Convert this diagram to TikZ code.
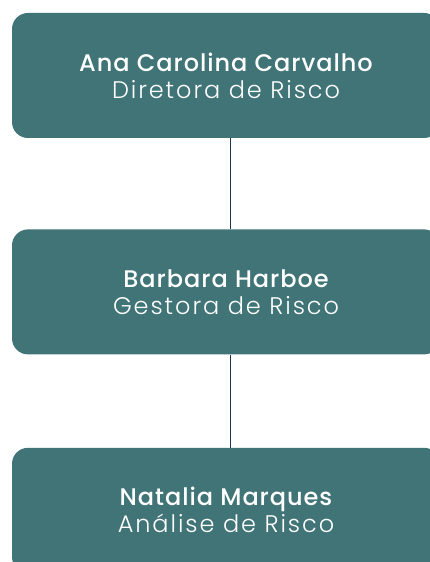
\documentclass[tikz,border=0pt]{standalone}
\usepackage{fontspec}
\usepackage{xcolor}
\usepackage{tikz}
\usetikzlibrary{positioning}
\newfontfamily\namefont{Poppins Medium}[LetterSpace=4]
\newfontfamily\rolefont{Poppins Light}[LetterSpace=8]
\definecolor{teal}{HTML}{407476}
\definecolor{navy}{HTML}{1E3550}
\tikzset{
  card/.style={fill=teal, rounded corners=16pt, minimum width=428pt, minimum height=125pt,
    inner sep=0pt, align=center, text=white, font=\fontsize{24}{27}\selectfont},
  link/.style={draw=navy, line width=1pt},
  every node/.style={text=white}
}
\newcommand{\who}[2]{{\namefont #1}\\{\rolefont #2}}

\begin{document}
\begin{tikzpicture}[x=1pt,y=1pt]
  \useasboundingbox (0,0) rectangle (430,562);
  \clip (0,0) rectangle (430,562);
  \node[card] (ana) at (226,486.5) {\who{Ana Carolina Carvalho}{Diretora de Risco}};
  \node[card,below=91pt of ana] (barbara) {\who{Barbara Harboe}{Gestora de Risco}};
  \node[card,below=93pt of barbara] (natalia) {\who{Natalia Marques}{Análise de Risco}};
  \draw[link] ([xshift=4pt]ana.south) -- ([xshift=4pt]barbara.north);
  \draw[link] ([xshift=4pt]barbara.south) -- ([xshift=4pt]natalia.north);
\end{tikzpicture}
\end{document}
